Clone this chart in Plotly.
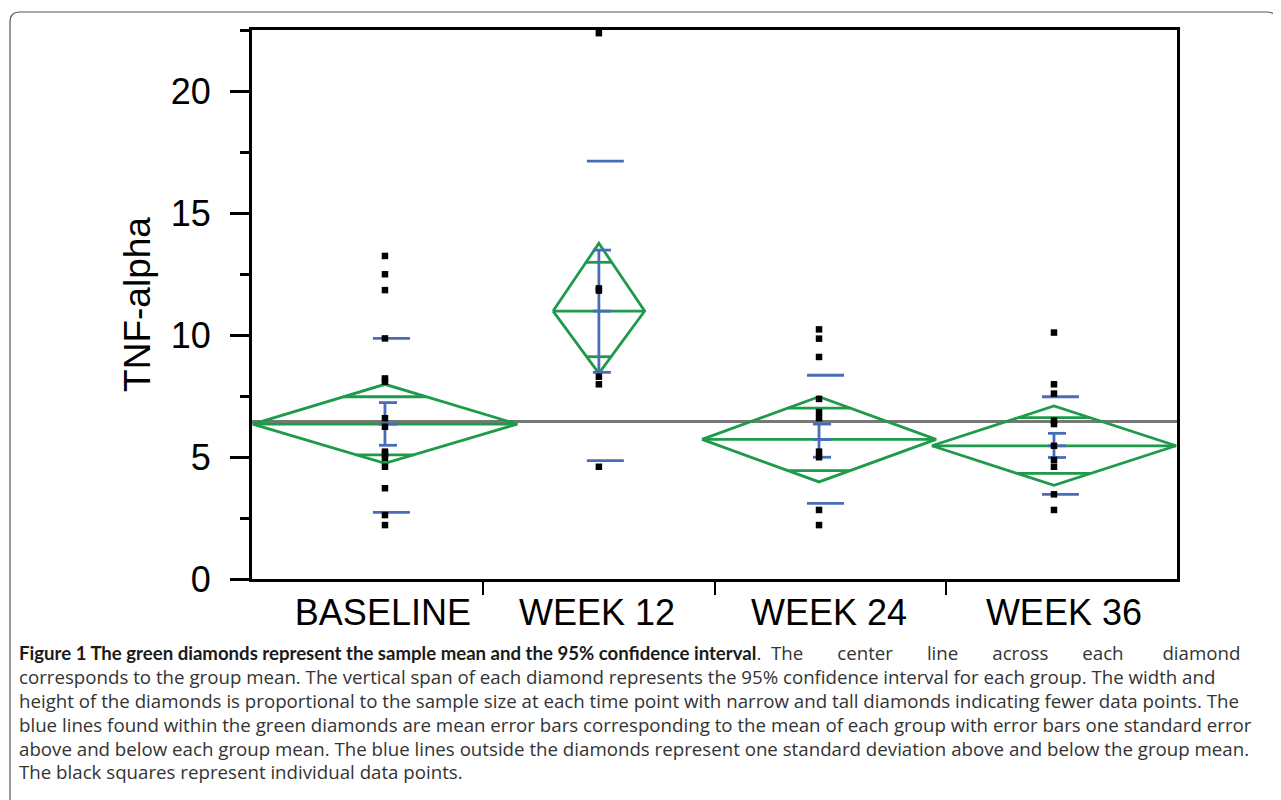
import plotly.graph_objects as go

# ---------------- data ----------------
groups = ["BASELINE", "WEEK 12", "WEEK 24", "WEEK 36"]
sample_n = [26, 9, 23, 24]

baseline_vals = [13.24, 12.49, 11.84, 9.86, 8.22, 8.09, 6.59, 6.24, 5.22, 5.12, 4.95, 4.60, 3.72, 2.62, 2.21]
week12_vals = [22.37, 11.91, 11.82, 8.29, 7.98, 4.60]
week24_vals = [10.23, 9.85, 9.10, 7.38, 6.84, 6.59, 5.22, 4.99, 2.83, 2.21]
week36_vals = [10.10, 7.98, 7.60, 6.49, 6.35, 5.46, 4.88, 4.60, 3.47, 2.83]
group_values = [baseline_vals, week12_vals, week24_vals, week36_vals]

means = [6.35, 10.98, 5.72, 5.46]
ci_high = [7.98, 13.76, 7.47, 7.09]
ci_low = [4.74, 8.43, 3.98, 3.84]
overlap_high = [7.47, 12.98, 7.00, 6.61]
overlap_low = [5.09, 9.11, 4.44, 4.33]
se_high = [7.23, 13.48, 6.35, 5.97]
se_low = [5.48, 8.47, 4.99, 4.98]
sd_high = [9.86, 17.13, 8.35, 7.47]
sd_low = [2.73, 4.85, 3.10, 3.47]
grand_mean = 6.45

y_ticks = [0, 5, 10, 15, 20]
y_tick_text = ["0", "5", "10", "15", "20"]

# ---------------- layout helpers (positions / styles) ----------------
group_pos = [0.575, 1.50, 2.452, 3.468]
label_pos = [0.566, 1.492, 2.495, 3.511]
width_per_n = 0.022
GREEN = "#1d9a4a"
BLUE = "#4a6cb8"
GRAY = "#777777"

OFF = 8  # default page body margin
W, H = 1281 - OFF, 800 - OFF
# plot area edges in screenshot pixels
L, R, T, B = 252, 1177, 30, 579


def px2paper_x(px):
    return (px - L) / (R - L)


def px2paper_y(py):
    return (B - py) / (B - T)


fig = go.Figure()

# grand mean line
fig.add_trace(go.Scatter(x=[0, 4], y=[grand_mean, grand_mean], mode="lines",
                         line=dict(color=GRAY, width=3), hoverinfo="skip", showlegend=False))

# diamonds
for i in range(len(groups)):
    x0 = group_pos[i]
    hw = sample_n[i] * width_per_n
    m = means[i]
    xs = [x0 - hw, x0, x0 + hw, x0, x0 - hw, None, x0 - hw, x0 + hw]
    ys = [m, ci_high[i], m, ci_low[i], m, None, m, m]
    for ov, ref in ((overlap_high[i], ci_high[i]), (overlap_low[i], ci_low[i])):
        frac = abs(ov - m) / abs(ref - m)
        h = hw * (1 - frac)
        xs += [None, x0 - h, x0 + h]
        ys += [None, ov, ov]
    fig.add_trace(go.Scatter(x=xs, y=ys, mode="lines", line=dict(color=GREEN, width=2.8),
                             hoverinfo="skip", showlegend=False))

# blue error bars
for i in range(len(groups)):
    x0 = group_pos[i]
    xs = [x0, x0]
    ys = [se_low[i], se_high[i]]
    for v in (se_low[i], means[i], se_high[i]):
        xs += [None, x0 - 0.026, x0 + 0.052]
        ys += [None, v, v]
    for v in (sd_low[i], sd_high[i]):
        xs += [None, x0 - 0.052, x0 + 0.108]
        ys += [None, v, v]
    fig.add_trace(go.Scatter(x=xs, y=ys, mode="lines", line=dict(color=BLUE, width=2.8),
                             hoverinfo="skip", showlegend=False))

# data points
for i in range(len(groups)):
    fig.add_trace(go.Scatter(x=[group_pos[i]] * len(group_values[i]), y=group_values[i],
                             mode="markers", marker=dict(symbol="square", size=6.5, color="black"),
                             cliponaxis=False, showlegend=False, name=groups[i]))

AX_FONT = dict(family="Liberation Sans, Arial, sans-serif", size=36, color="black")

fig.update_layout(
    width=W, height=H,
    margin=dict(l=L - OFF, r=1281 - R, t=T - OFF, b=800 - B, pad=0),
    paper_bgcolor="white", plot_bgcolor="white",
    showlegend=False,
    xaxis=dict(range=[0, 4], showgrid=False, zeroline=False,
               showline=True, linecolor="black", linewidth=3, mirror=True,
               tickmode="array", tickvals=label_pos, ticktext=groups, ticks="",
               tickfont=AX_FONT, ticklabelstandoff=0,
               minor=dict(tickmode="array", tickvals=[1, 2, 3], ticks="outside",
                          ticklen=13, tickwidth=2, tickcolor="black")),
    yaxis=dict(range=[0, 22.5], showgrid=False, zeroline=False,
               showline=True, linecolor="black", linewidth=3, mirror=True,
               tickmode="array", tickvals=y_ticks, ticktext=y_tick_text,
               ticks="outside", ticklen=19, tickwidth=3, tickcolor="black",
               tickfont=AX_FONT, ticklabelstandoff=12,
               minor=dict(dtick=2.5, ticks="outside", ticklen=9, tickwidth=3, tickcolor="black"),
               title=dict(text="TNF-alpha", font=dict(family=AX_FONT["family"], size=37, color="black"),
                          standoff=9)),
)

# outer rounded border
lx, rx_, ty, by = px2paper_x(10), px2paper_x(1277), px2paper_y(12), px2paper_y(810)
rxp, ryp = 10 / (R - L), 10 / (B - T)
path = (f"M {lx},{by} L {lx},{ty - ryp} Q {lx},{ty} {lx + rxp},{ty} "
        f"L {rx_ - rxp},{ty} Q {rx_},{ty} {rx_},{ty - ryp} L {rx_},{by}")
fig.add_shape(type="path", path=path, xref="paper", yref="paper",
              line=dict(color="#555555", width=1.2), fillcolor="rgba(0,0,0,0)", layer="below")

BOLD_STYLE = "font-family:Lato;font-size:18.6px;color:#1a1a1a"
# justified (wide) word spacing for the first line
first_words = ["The", "center", "line", "across", "each", "diamond"]
gap_nbsp = [6, 6, 6, 6, 7]
first_rest = first_words[0]
for w, g in zip(first_words[1:], gap_nbsp):
    first_rest += " " + "&nbsp;" * g + w
caption_lines = [
    f"<span style='{BOLD_STYLE}'><b>Figure 1 The green diamonds represent the sample mean and the 95% confidence interval</b></span>. "
    + "&nbsp;" + first_rest,
    "corresponds to the group mean. The vertical span of each diamond represents the 95% confidence interval for each group. The width and",
    "height of the diamonds is proportional to the sample size at each time point with narrow and tall diamonds indicating fewer data points. The",
    "blue lines found within the green diamonds are mean error bars corresponding to the mean of each group with error bars one standard error",
    "above and below each group mean. The blue lines outside the diamonds represent one standard deviation above and below the group mean.",
    "The black squares represent individual data points.",
]
for k, line in enumerate(caption_lines):
    fig.add_annotation(text=line, xref="paper", yref="paper",
                       x=px2paper_x(17), y=px2paper_y(652 + 24 * k),
                       xanchor="left", yanchor="middle", showarrow=False,
                       font=dict(family="Open Sans, sans-serif", size=18.7, color="#333333"))

fig.write_html("out.html")
